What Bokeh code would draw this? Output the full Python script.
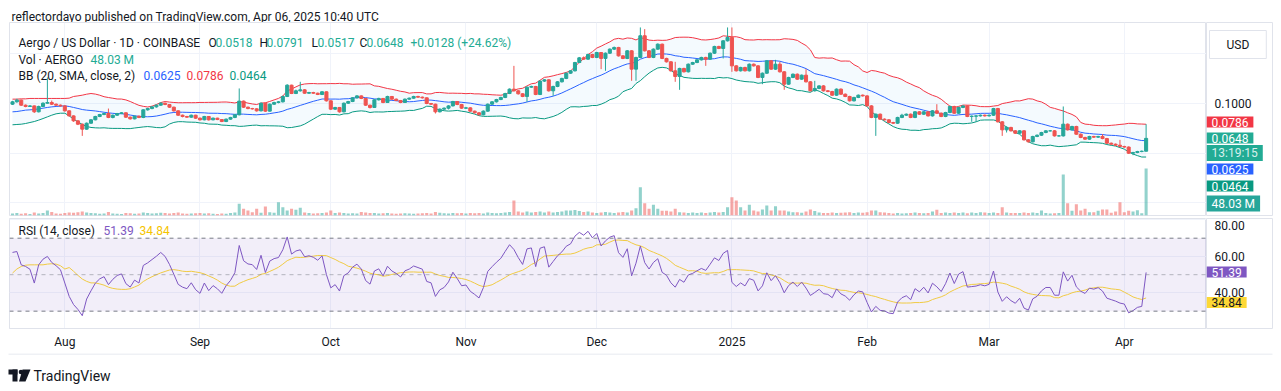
import numpy as np
import pandas as pd
from bokeh.plotting import figure
from bokeh.models import (Range1d, LinearAxis, FixedTicker, Label, Span, BoxAnnotation, Grid)
from bokeh.core.properties import value
from bokeh.layouts import column, row
from bokeh.embed import file_html
from bokeh.resources import INLINE

# ---------------- data ----------------
start_date = "2024-07-20"
first_open = 0.0993
close = [
0.1017,0.1034,0.0983,0.0970,0.0976,0.0916,0.0970,0.1003,0.1010,0.0993,
0.0983,0.0976,0.0926,0.0875,0.0825,0.0791,0.0741,0.0801,0.0835,0.0869,
0.0889,0.0899,0.0859,0.0882,0.0899,0.0906,0.0862,0.0845,0.0872,0.0859,
0.0936,0.0949,0.0966,0.0983,0.1003,0.0990,0.0963,0.0926,0.0882,0.0869,
0.0862,0.0882,0.0852,0.0835,0.0869,0.0835,0.0852,0.0838,0.0818,0.0842,
0.0859,0.0886,0.1024,0.0963,0.0949,0.0946,0.0926,0.1003,0.0923,0.0993,
0.1010,0.1017,0.1071,0.1185,0.1101,0.1128,0.1138,0.1104,0.1111,0.1104,
0.1091,0.1118,0.1027,0.0943,0.0960,0.0916,0.1003,0.1020,0.1057,0.1077,
0.1051,0.0983,0.0960,0.1037,0.1051,0.1010,0.1071,0.1044,0.1030,0.1010,
0.1044,0.1054,0.1071,0.1064,0.1057,0.1000,0.0993,0.0916,0.0943,0.0953,
0.0976,0.1020,0.0990,0.0953,0.0956,0.0923,0.0906,0.0886,0.0923,0.0993,
0.1017,0.1040,0.1061,0.1101,0.1145,0.1128,0.1098,0.1071,0.1165,0.1172,
0.1091,0.1226,0.1239,0.1128,0.1172,0.1219,0.1253,0.1306,0.1330,0.1414,
0.1461,0.1448,0.1495,0.1465,0.1515,0.1455,0.1508,0.1549,0.1566,0.1481,
0.1455,0.1532,0.1347,0.1465,0.1684,0.1532,0.1465,0.1549,0.1599,0.1455,
0.1421,0.1330,0.1273,0.1354,0.1320,0.1397,0.1414,0.1441,0.1465,0.1448,
0.1508,0.1576,0.1556,0.1633,0.1667,0.1380,0.1330,0.1364,0.1330,0.1397,
0.1380,0.1263,0.1306,0.1431,0.1347,0.1397,0.1320,0.1195,0.1263,0.1296,
0.1246,0.1286,0.1219,0.1128,0.1152,0.1178,0.1128,0.1121,0.1084,0.1145,
0.1094,0.1071,0.1027,0.1061,0.1084,0.1077,0.0976,0.0859,0.0892,0.0842,
0.0835,0.0808,0.0801,0.0859,0.0882,0.0892,0.0859,0.0916,0.0892,0.0916,
0.0875,0.0926,0.0902,0.0869,0.0909,0.0970,0.0902,0.0960,0.0976,0.0869,
0.0872,0.0875,0.0882,0.0875,0.0882,0.0949,0.0815,0.0734,0.0758,0.0724,
0.0700,0.0724,0.0633,0.0613,0.0667,0.0680,0.0707,0.0724,0.0724,0.0673,
0.0673,0.0791,0.0734,0.0768,0.0690,0.0657,0.0640,0.0667,0.0660,0.0667,
0.0646,0.0599,0.0589,0.0579,0.0566,0.0560,0.0498,0.0505,0.0515,0.0518,
0.0648]
high = [
0.1027,0.1048,0.1040,0.0990,0.0985,0.0980,0.0978,0.1012,0.1263,0.1030,
0.1000,0.0990,0.0982,0.0930,0.0880,0.0832,0.0798,0.0808,0.0842,0.0876,
0.0895,0.0905,0.0949,0.0888,0.0905,0.0912,0.0910,0.0868,0.0878,0.0878,
0.0942,0.0956,0.0972,0.0990,0.1012,0.1010,0.0995,0.0968,0.0930,0.0888,
0.0875,0.0888,0.0886,0.0858,0.0875,0.0872,0.0858,0.0856,0.0842,0.0848,
0.0865,0.0892,0.1152,0.1030,0.0968,0.0956,0.0952,0.1010,0.1008,0.1000,
0.1018,0.1025,0.1080,0.1195,0.1190,0.1140,0.1219,0.1145,0.1118,0.1118,
0.1110,0.1125,0.1122,0.1032,0.0966,0.0965,0.1010,0.1027,0.1064,0.1085,
0.1082,0.1056,0.0988,0.1044,0.1058,0.1056,0.1078,0.1076,0.1050,0.1036,
0.1050,0.1060,0.1078,0.1078,0.1070,0.1062,0.1006,0.0998,0.0950,0.0960,
0.0983,0.1027,0.1025,0.0996,0.0966,0.0962,0.0928,0.0912,0.0930,0.1000,
0.1024,0.1047,0.1068,0.1108,0.1152,0.1380,0.1135,0.1104,0.1172,0.1180,
0.1178,0.1233,0.1246,0.1245,0.1180,0.1226,0.1260,0.1313,0.1337,0.1421,
0.1470,0.1475,0.1503,0.1502,0.1522,0.1520,0.1515,0.1556,0.1575,0.1572,
0.1488,0.1540,0.1538,0.1472,0.1768,0.1751,0.1540,0.1556,0.1607,0.1605,
0.1462,0.1428,0.1421,0.1361,0.1361,0.1404,0.1421,0.1448,0.1472,0.1472,
0.1515,0.1583,0.1583,0.1640,0.1768,0.1768,0.1387,0.1371,0.1371,0.1404,
0.1404,0.1387,0.1313,0.1438,0.1438,0.1441,0.1421,0.1327,0.1270,0.1303,
0.1303,0.1293,0.1347,0.1226,0.1229,0.1185,0.1185,0.1135,0.1128,0.1152,
0.1152,0.1101,0.1078,0.1068,0.1091,0.1091,0.1084,0.0983,0.0899,0.0899,
0.0849,0.0842,0.0815,0.0866,0.0896,0.0899,0.0899,0.0923,0.0923,0.0923,
0.0923,0.0933,0.0993,0.0909,0.0916,0.0977,0.0977,0.0967,0.0983,0.0983,
0.0880,0.0882,0.0889,0.0889,0.0889,0.0956,0.0956,0.0822,0.0768,0.0765,
0.0731,0.0731,0.0731,0.0640,0.0674,0.0687,0.0714,0.0731,0.0731,0.0731,
0.0680,0.0970,0.0798,0.0775,0.0775,0.0697,0.0664,0.0674,0.0674,0.0674,
0.0690,0.0653,0.0606,0.0596,0.0633,0.0573,0.0567,0.0512,0.0522,0.0525,
0.0791]
low = [
0.0985,0.1008,0.0975,0.0962,0.0965,0.0905,0.0910,0.0965,0.0998,0.0985,
0.0975,0.0968,0.0918,0.0868,0.0815,0.0782,0.0673,0.0735,0.0795,0.0830,
0.0862,0.0882,0.0852,0.0850,0.0875,0.0893,0.0855,0.0838,0.0840,0.0852,
0.0852,0.0928,0.0942,0.0958,0.0978,0.0983,0.0956,0.0918,0.0875,0.0860,
0.0855,0.0856,0.0845,0.0828,0.0830,0.0828,0.0830,0.0832,0.0812,0.0812,
0.0836,0.0852,0.0880,0.0955,0.0942,0.0938,0.0918,0.0920,0.0915,0.0918,
0.0986,0.1002,0.1010,0.1065,0.1095,0.1095,0.1120,0.1098,0.1098,0.1098,
0.1085,0.1085,0.1020,0.0935,0.0936,0.0908,0.0910,0.0996,0.1014,0.1050,
0.1044,0.0976,0.0949,0.0955,0.1030,0.1003,0.1005,0.1038,0.1024,0.1003,
0.1005,0.1038,0.1048,0.1058,0.1050,0.0993,0.0986,0.0899,0.0910,0.0936,
0.0940,0.0970,0.0983,0.0946,0.0946,0.0916,0.0899,0.0879,0.0880,0.0916,
0.0986,0.1010,0.1034,0.1054,0.1095,0.1120,0.1090,0.1064,0.1017,0.1158,
0.1084,0.1085,0.1218,0.1120,0.1077,0.1165,0.1212,0.1246,0.1299,0.1323,
0.1407,0.1440,0.1441,0.1458,0.1458,0.1347,0.1330,0.1500,0.1540,0.1474,
0.1448,0.1448,0.1229,0.1229,0.1458,0.1525,0.1458,0.1458,0.1542,0.1448,
0.1414,0.1322,0.1219,0.1138,0.1313,0.1313,0.1390,0.1407,0.1434,0.1380,
0.1441,0.1500,0.1549,0.1455,0.1626,0.1320,0.1323,0.1323,0.1323,0.1323,
0.1373,0.1256,0.1195,0.1299,0.1340,0.1340,0.1313,0.1138,0.1188,0.1256,
0.1239,0.1239,0.1212,0.1121,0.1121,0.1145,0.1121,0.1114,0.1077,0.1077,
0.1087,0.1064,0.1020,0.1020,0.1054,0.1070,0.0969,0.0852,0.0673,0.0835,
0.0828,0.0801,0.0794,0.0794,0.0852,0.0875,0.0852,0.0852,0.0885,0.0885,
0.0868,0.0868,0.0895,0.0862,0.0862,0.0902,0.0895,0.0895,0.0953,0.0862,
0.0815,0.0815,0.0868,0.0868,0.0868,0.0875,0.0808,0.0673,0.0707,0.0717,
0.0693,0.0693,0.0626,0.0606,0.0606,0.0660,0.0673,0.0700,0.0717,0.0666,
0.0666,0.0666,0.0727,0.0727,0.0683,0.0650,0.0633,0.0633,0.0653,0.0653,
0.0639,0.0592,0.0582,0.0572,0.0559,0.0553,0.0491,0.0478,0.0498,0.0508,
0.0517]
volume_m = [
2.0,2.5,1.8,2.2,1.5,3.0,2.0,2.5,5.0,3.5,
2.0,1.8,2.5,3.0,2.8,3.2,4.0,3.0,2.5,2.2,
1.8,2.0,3.5,2.0,1.8,1.5,2.5,2.2,1.8,2.0,
3.0,2.5,2.0,2.2,2.8,2.5,2.0,2.5,3.0,2.0,
1.8,2.0,2.2,2.5,2.0,2.2,1.8,1.5,2.0,1.8,
2.5,3.0,11.9,6.8,5.1,3.4,6.8,2.7,9.2,3.4,
2.7,13.6,8.5,5.1,6.8,6.0,8.0,3.0,2.5,2.0,
2.2,2.5,3.0,5.0,2.5,3.0,2.5,2.0,2.2,2.0,
3.5,3.0,2.5,2.5,2.0,2.2,2.5,2.0,1.8,2.0,
2.2,2.0,1.8,2.0,2.2,2.5,2.0,3.5,2.8,2.2,
2.0,2.5,2.2,2.5,2.0,2.5,2.2,2.5,2.0,3.0,
2.5,2.2,2.5,3.0,3.5,15.3,4.0,3.0,4.0,3.0,
3.5,4.0,3.0,4.0,3.0,3.5,4.0,5.0,5.0,5.5,
4.5,3.5,4.0,3.0,2.5,3.0,3.5,3.0,2.5,3.0,
3.5,3.0,5.0,7.5,28.9,12.6,6.8,10.9,6.8,4.8,
4.8,4.0,6.8,3.4,3.0,2.5,3.0,2.5,3.0,2.5,
3.0,3.5,3.0,3.5,8.5,18.7,15.3,8.5,5.1,10.9,
5.1,4.0,6.1,10.2,5.1,9.5,5.1,5.1,4.0,3.4,
3.4,2.7,4.0,6.1,4.5,3.0,2.5,2.5,3.0,2.5,
2.7,3.0,3.4,2.5,3.0,2.7,3.4,5.1,5.1,3.4,
3.0,2.5,2.0,2.5,2.0,2.2,2.5,3.0,2.5,2.2,
2.5,4.0,6.0,2.5,3.0,2.5,3.0,2.5,3.0,2.2,
3.0,2.5,3.4,3.0,2.5,3.0,2.5,8.5,3.0,2.5,
2.5,2.5,3.0,2.5,3.0,2.5,5.0,2.5,2.0,2.2,
2.5,41.8,12.6,4.8,11.6,5.1,6.8,3.4,3.4,4.8,
6.1,6.1,2.7,4.0,13.6,3.4,4.8,4.0,5.4,2.4,
48.03]
# indicator values before the 20-day / 14-day windows fill
bb_up_head = [0.1044,0.1044,0.1047,0.1047,0.1051,0.1051,0.1051,0.1051,0.1051,0.1051,
              0.1051,0.1051,0.1051,0.1054,0.1071,0.1077,0.1084,0.1094,0.1101]
bb_mid_head = [0.0916,0.0919,0.0926,0.0933,0.0936,0.0939,0.0946,0.0953,0.0960,0.0966,
               0.0970,0.0973,0.0976,0.0970,0.0960,0.0950,0.0939,0.0933,0.0929]
bb_lo_head = [0.0785,0.0788,0.0791,0.0798,0.0808,0.0818,0.0832,0.0848,0.0865,0.0882,
              0.0896,0.0902,0.0902,0.0875,0.0842,0.0815,0.0788,0.0768,0.0758]
rsi_head = [62.2,62.7,55.4,54.5,53.0,45.4,55.4,58.5,60.0,56.7,54.9,52.7,45.4,38.1]
rsi_ma_head = [50.9,53.1,54.5,55.2,55.4,55.4,55.4,55.4,55.8,56.0,55.8,54.9,53.1]
month_labels = ["Aug", "Sep", "Oct", "Nov", "Dec", "2025", "Feb", "Mar", "Apr"]
price_ticks = [0.10]
price_grid = [0.0, 0.05, 0.10, 0.15]
rsi_ticks = [40, 60, 80]
legend_vals = {"O": "0.0518", "H": "0.0791", "L": "0.0517", "C": "0.0648",
               "chg": "+0.0128 (+24.62%)", "vol": "48.03 M",
               "bb_mid": "0.0625", "bb_up": "0.0786", "bb_lo": "0.0464",
               "rsi": "51.39", "rsi_ma": "34.84", "countdown": "13:19:15"}

# ---------------- derived series ----------------
n = len(close)
idx = np.arange(n)
dates = pd.date_range(start_date, periods=n, freq="D")
c = np.array(close)
o = np.array([first_open] + close[:-1])
h = np.array(high)
l = np.array(low)
is_up = c >= o

s = pd.Series(c)
mid = s.rolling(20).mean().to_numpy()
sd = s.rolling(20).std(ddof=0).to_numpy()
upper = mid + 2 * sd
lower = mid - 2 * sd
k = len(bb_mid_head)
mid[:k] = bb_mid_head
upper[:k] = bb_up_head
lower[:k] = bb_lo_head

delta = np.diff(c, prepend=c[0])
m0 = len(rsi_head)
rsi = np.full(n, np.nan)
rsi[:m0] = rsi_head
mabs = np.mean(np.abs(delta[1:m0]))
ag = rsi_head[-1] / 100 * mabs
al = (1 - rsi_head[-1] / 100) * mabs
for i in range(m0, n):
    d = delta[i]
    ag = (ag * 13 + max(d, 0)) / 14
    al = (al * 13 + max(-d, 0)) / 14
    rsi[i] = 100 * ag / (ag + al)
rsi_ma = pd.Series(rsi).rolling(14).mean().to_numpy()
rsi_ma[:len(rsi_ma_head)] = rsi_ma_head

month_ticks = [int(i) for i in idx[dates.day == 1]]

UP, DN = "#26a69a", "#ef5350"
cols = [UP if u else DN for u in is_up]
FONT = "Roboto"
TXT = "#131722"
BORDER = "#e0e3eb"
GRID = "#f0f3fa"

x_range = Range1d(-0.69, 273.85)


def bare(width, height, xr, yr, **borders):
    f = figure(width=width, height=height, x_range=xr, y_range=yr,
               output_backend="svg", toolbar_location=None, title_location=None,
               x_axis_location=None, y_axis_location=None,
               min_border_left=borders.get("left", 0), min_border_right=borders.get("right", 0),
               min_border_top=borders.get("top", 0), min_border_bottom=borders.get("bottom", 0))
    f.xgrid.visible = False
    f.ygrid.visible = False
    f.outline_line_color = None
    f.background_fill_color = "white"
    f.border_fill_color = "white"
    return f


def lab(fig, x, y, text, color=TXT, size="12px", **kw):
    fig.add_layout(Label(x=x, y=y, x_units="screen", y_units="screen", text=text,
                         text_color=color, text_font=FONT, text_font_size=size,
                         text_baseline="middle", **kw))


def tag(fig, y, text, bg, fg="white"):
    fig.add_layout(Label(x=0, y=y, x_units="screen", y_units="screen", text=text,
                         text_color=fg, text_font=FONT, text_font_size="12px",
                         text_baseline="middle", background_fill_color=bg,
                         padding=(5, 1)))


# ---------------- header ----------------
head = bare(1273, 22, Range1d(0, 1), Range1d(0, 1))
lab(head, 11, 6, "reflectordayo published on TradingView.com, Apr 06, 2025 10:40 UTC")

# ---------------- main pane ----------------
price_range = Range1d(-0.0131, 0.1818)
p = bare(1206, 194, x_range, price_range, left=9, bottom=1)
p.outline_line_color = BORDER
p.extra_y_ranges = {"vol": Range1d(0, 197.2)}
p.add_layout(Grid(dimension=1, ticker=FixedTicker(ticks=price_grid), grid_line_color=GRID))
p.add_layout(Grid(dimension=0, ticker=FixedTicker(ticks=month_ticks), grid_line_color=GRID))

p.vbar(x=idx, width=0.7, top=volume_m, bottom=0, y_range_name="vol",
       fill_color=cols, fill_alpha=0.5, line_color=None)
p.varea(x=idx, y1=lower, y2=upper, fill_color="#2196f3", fill_alpha=0.05)
p.line(idx, upper, line_color="#f23645", line_width=1)
p.line(idx, mid, line_color="#2962ff", line_width=1)
p.line(idx, lower, line_color="#089981", line_width=1)
p.segment(x0=idx, y0=l, x1=idx, y1=h, line_color=cols, line_width=1)
p.vbar(x=idx, width=0.7, top=np.maximum(o, c), bottom=np.minimum(o, c),
       fill_color=cols, line_color=cols)

G = "#22ab94"
lab(p, 9, 173, "Aergo / US Dollar · 1D · COINBASE")
lab(p, 199, 173, "O"); lab(p, 206, 173, legend_vals["O"], G)
lab(p, 250, 173, "H"); lab(p, 257, 173, legend_vals["H"], G)
lab(p, 302, 173, "L"); lab(p, 308, 173, legend_vals["L"], G)
lab(p, 350, 173, "C"); lab(p, 357, 173, legend_vals["C"], G)
lab(p, 401, 173, legend_vals["chg"], G)
lab(p, 9, 156, "Vol · AERGO"); lab(p, 81, 156, legend_vals["vol"], G)
lab(p, 9, 140, "BB (20, SMA, close, 2)")
lab(p, 134, 140, legend_vals["bb_mid"], "#2962ff")
lab(p, 177, 140, legend_vals["bb_up"], "#f23645")
lab(p, 220, 140, legend_vals["bb_lo"], "#089981")

# price scale (right)
pa = bare(67, 194, Range1d(0, 67), price_range, bottom=1)
pa.outline_line_color = BORDER
pa.text(x=[8] * len(price_ticks), y=price_ticks, text=[f"{t:.4f}" for t in price_ticks],
        text_font=value(FONT), text_font_size="12px", text_color=TXT, text_baseline="middle")
tag(pa, 93.5, legend_vals["bb_up"], "#f23645")
tag(pa, 77.5, legend_vals["C"], "#22ab94")
tag(pa, 62.5, legend_vals["countdown"], "#22ab94", "#d8f0ec")
tag(pa, 46.5, legend_vals["bb_mid"], "#2962ff")
tag(pa, 29.5, legend_vals["bb_lo"], "#089981")
tag(pa, 12, legend_vals["vol"], "#26a69a")
pa.add_layout(Label(x=3, y=171, x_units="screen", y_units="screen", text="USD",
                    text_color=TXT, text_font=FONT, text_font_size="12px",
                    text_baseline="middle", background_fill_color="white",
                    border_line_color=BORDER, padding=(17, 7)))

# ---------------- RSI pane ----------------
rsi_range = Range1d(20.5, 80.8)
r = bare(1206, 137, x_range, rsi_range, left=9, top=2, bottom=25)
r.outline_line_color = BORDER
r.add_layout(Grid(dimension=1, ticker=FixedTicker(ticks=rsi_ticks), grid_line_color=GRID))
r.add_layout(Grid(dimension=0, ticker=FixedTicker(ticks=month_ticks), grid_line_color=GRID))

xa = LinearAxis(ticker=FixedTicker(ticks=month_ticks),
                major_label_overrides={t: lb for t, lb in zip(month_ticks, month_labels)})
xa.major_tick_line_color = None
xa.minor_tick_line_color = None
xa.major_tick_out = 0
xa.major_tick_in = 0
xa.minor_tick_out = 0
xa.axis_line_color = BORDER
xa.major_label_text_font = FONT
xa.major_label_text_font_size = "12px"
xa.major_label_text_color = TXT
xa.major_label_standoff = 6
r.add_layout(xa, "below")

r.add_layout(BoxAnnotation(bottom=30, top=70, fill_color="#7e57c2", fill_alpha=0.1, line_color=None))
for lvl, a in ((70, 1.0), (50, 0.5), (30, 1.0)):
    r.add_layout(Span(location=lvl, dimension="width", line_color="#787b86",
                      line_dash="4 4", line_width=1, line_alpha=a))
r.line(idx, rsi_ma, line_color="#fdd835", line_width=1)
r.line(idx, rsi, line_color="#7e57c2", line_width=1)

lab(r, 9, 98, "RSI (14, close)")
lab(r, 94, 98, legend_vals["rsi"], "#7e57c2")
lab(r, 130, 98, legend_vals["rsi_ma"], "#f5c400")

# RSI scale (right)
ra = bare(67, 137, Range1d(0, 67), rsi_range, top=2, bottom=25)
ra.outline_line_color = BORDER
ra.text(x=[8] * len(rsi_ticks), y=rsi_ticks, text=[f"{t:.2f}" for t in rsi_ticks],
        y_offset=[0, 0, 6],
        text_font=value(FONT), text_font_size="12px", text_color=TXT, text_baseline="middle")
tag(ra, 56.5, legend_vals["rsi"], "#7e57c2")
tag(ra, 26, legend_vals["rsi_ma"], "#fdd835", TXT)

# ---------------- footer (TradingView mark) ----------------
foot = bare(1273, 38, Range1d(0, 1273), Range1d(0, 38))
foot.segment(x0=[8], y0=[37.5], x1=[1272], y1=[37.5], line_color=BORDER, line_width=1)
foot.quad(left=[8, 12], right=[17, 17], bottom=[17, 10], top=[22, 22], fill_color=TXT, line_color=None)
foot.circle(x=[20.5], y=[19.5], radius=2.3, fill_color=TXT, line_color=None)
foot.patch(x=[22, 30, 25, 18.5], y=[22, 22, 10, 10], fill_color=TXT, line_color=None)
lab(foot, 33, 16, "TradingView", size="14px")

layout = column(head, row(p, pa, spacing=0), row(r, ra, spacing=0), foot, spacing=0)
open("out.html", "w").write(file_html(layout, INLINE))
